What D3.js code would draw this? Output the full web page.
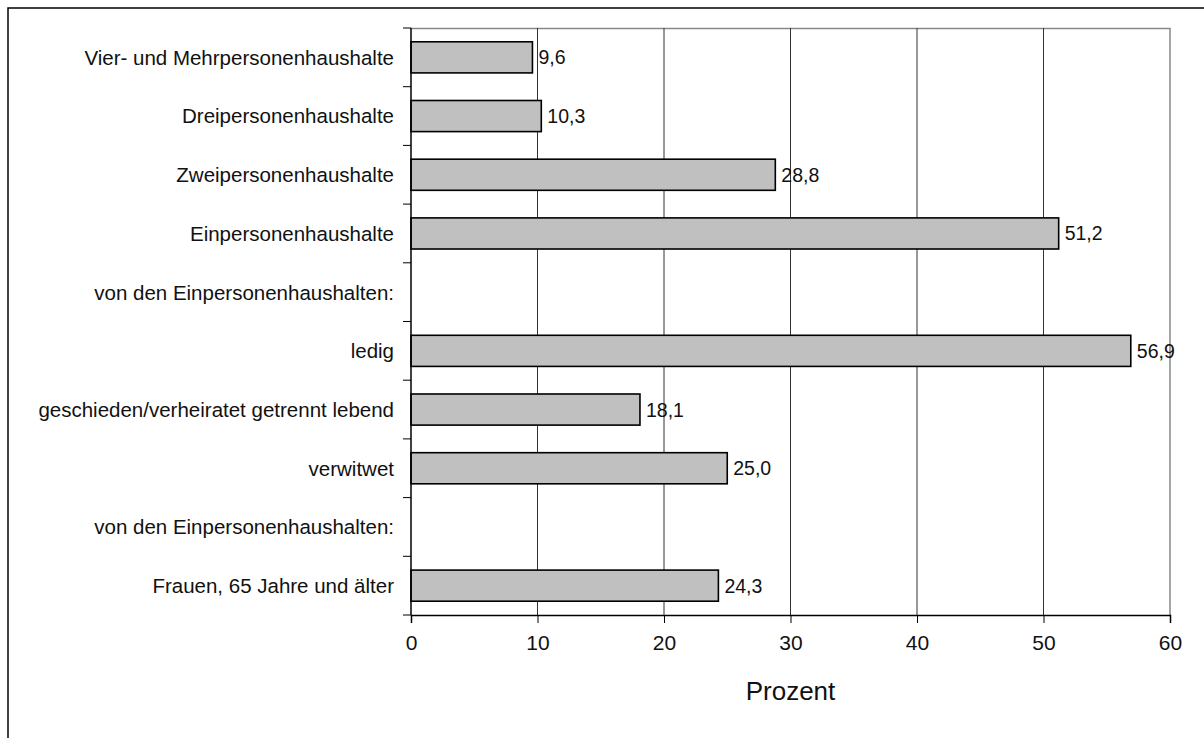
<!DOCTYPE html>
<html>
<head>
<meta charset="utf-8">
<script src="https://cdn.jsdelivr.net/npm/d3@7"></script>
<style>
  body { margin: 0; background: #fff; }
  text { font-family: "Liberation Sans", Arial, sans-serif; fill: #111; }
</style>
</head>
<body>
<div id="chart"></div>
<script>
var categories = [
  "Vier- und Mehrpersonenhaushalte",
  "Dreipersonenhaushalte",
  "Zweipersonenhaushalte",
  "Einpersonenhaushalte",
  "von den Einpersonenhaushalten:",
  "ledig",
  "geschieden/verheiratet getrennt lebend",
  "verwitwet",
  "von den Einpersonenhaushalten:",
  "Frauen, 65 Jahre und älter"
];
var values = [9.6, 10.3, 28.8, 51.2, null, 56.9, 18.1, 25.0, null, 24.3];
var xTicks = [0, 10, 20, 30, 40, 50, 60];
var xTitle = "Prozent";

var width = 1204, height = 738;
var margin = { top: 28, right: 34, bottom: 123, left: 411 };
var innerW = width - margin.left - margin.right,
  innerH = height - margin.top - margin.bottom;

var svg = d3.select("#chart").append("svg")
  .attr("width", width)
  .attr("height", height);

// outer frame
svg.append("rect")
  .attr("x", 8).attr("y", 8)
  .attr("width", width + 20).attr("height", height + 20)
  .attr("fill", "none")
  .attr("stroke", "#000")
  .attr("stroke-width", 1.5);

var g = svg.append("g")
  .attr("transform", "translate(" + margin.left + "," + margin.top + ")");

var x = d3.scaleLinear().domain([0, 60]).range([0, innerW]);
var y = d3.scaleBand()
  .domain(d3.range(categories.length))
  .range([0, innerH])
  .paddingInner(0.47)
  .paddingOuter(0.235);

// plot border (top/right, grey)
g.append("path")
  .attr("d", "M0,0.5H" + innerW + "V" + innerH)
  .attr("fill", "none")
  .attr("stroke", "#888")
  .attr("stroke-width", 1.5);

// gridlines
g.append("g").selectAll("line")
  .data(xTicks.slice(1, -1))
  .enter().append("line")
  .attr("x1", function(d) { return x(d); })
  .attr("x2", function(d) { return x(d); })
  .attr("y1", 0)
  .attr("y2", innerH)
  .attr("stroke", "#333")
  .attr("stroke-width", 1);

// bars
var rows = categories.map(function(c, i) { return { i: i, v: values[i] }; })
  .filter(function(d) { return d.v != null; });

g.append("g").selectAll("rect")
  .data(rows)
  .enter().append("rect")
  .attr("x", 0)
  .attr("y", function(d) { return y(d.i); })
  .attr("width", function(d) { return x(d.v); })
  .attr("height", y.bandwidth())
  .attr("fill", "#c0c0c0")
  .attr("stroke", "#000")
  .attr("stroke-width", 1.6);

// value labels
g.append("g").selectAll("text")
  .data(rows)
  .enter().append("text")
  .attr("x", function(d) { return x(d.v) + 6; })
  .attr("y", function(d) { return y(d.i) + y.bandwidth() / 2; })
  .attr("dy", "0.36em")
  .style("font-size", "19.5px")
  .text(function(d) { return d.v.toFixed(1).replace(".", ","); });

// x axis
var xAxis = g.append("g")
  .attr("transform", "translate(0," + innerH + ")")
  .call(d3.axisBottom(x).tickValues(xTicks).tickSize(8).tickPadding(12));
xAxis.select(".domain").attr("stroke", "#000").attr("stroke-width", 1.5);
xAxis.selectAll(".tick line").attr("stroke", "#000");
xAxis.selectAll("text")
  .style("font-size", "21px")
  .style("font-family", "Liberation Sans, Arial, sans-serif")
  .attr("fill", "#111");

// y axis: ticks at band boundaries
var step = innerH / categories.length;
g.append("line")
  .attr("x1", 0).attr("x2", 0)
  .attr("y1", 0).attr("y2", innerH)
  .attr("stroke", "#000").attr("stroke-width", 1.5);
g.append("g").selectAll("line")
  .data(d3.range(categories.length + 1))
  .enter().append("line")
  .attr("x1", -8).attr("x2", 0)
  .attr("y1", function(d) { return d * step; })
  .attr("y2", function(d) { return d * step; })
  .attr("stroke", "#000");

g.append("g").selectAll("text")
  .data(categories)
  .enter().append("text")
  .attr("x", -17)
  .attr("y", function(d, i) { return y(i) + y.bandwidth() / 2; })
  .attr("dy", "0.36em")
  .attr("text-anchor", "end")
  .style("font-size", "20.5px")
  .text(function(d) { return d; });

// axis title
g.append("text")
  .attr("x", x(30))
  .attr("y", innerH + 85)
  .attr("text-anchor", "middle")
  .style("font-size", "26px")
  .text(xTitle);
</script>
</body>
</html>
